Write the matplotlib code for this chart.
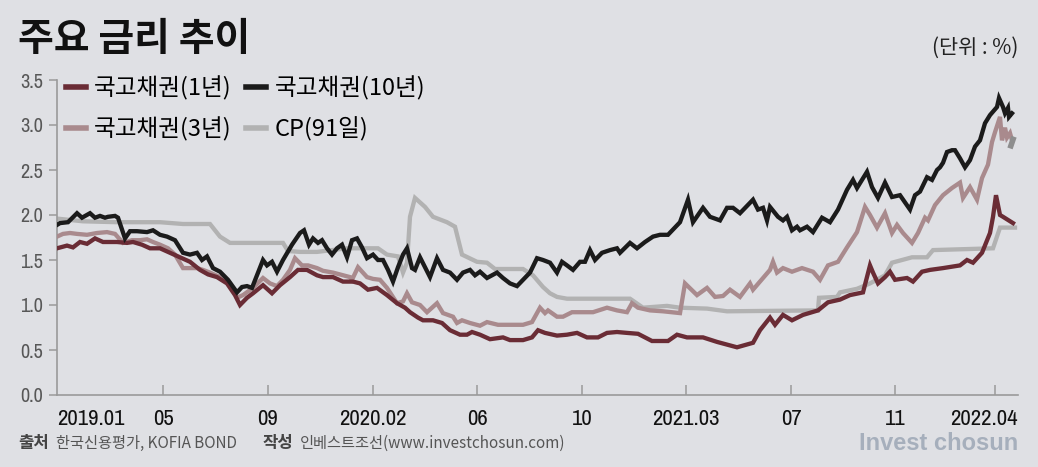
import matplotlib.pyplot as plt
from matplotlib.lines import Line2D
from matplotlib import font_manager as fm

# 위치(px 단위 타임라인, 0 = 2019.01) / 금리(%)
x_1y = [0, 10, 16, 23, 30, 38, 46, 60, 70, 76, 85, 93, 103, 113, 123, 133, 143, 151, 160, 170,
        178, 183, 190, 196, 206, 215, 223, 233, 241, 250, 260, 266, 276, 286, 296, 303, 311, 320,
        330, 340, 348, 353, 361, 366, 376, 385, 393, 403, 410, 415, 423, 433, 446, 453, 466, 475,
        481, 488, 500, 510, 520, 530, 541, 550, 560, 570, 581, 588, 595, 611, 620, 630, 646, 660,
        670, 680, 696, 703, 713, 718, 726, 735, 746, 761, 771, 783, 793, 806, 813, 816, 821, 828,
        833, 838, 850, 856, 865, 873, 886, 903, 910, 916, 925, 933, 936, 939, 943, 946, 956]
y_1y = [1.63, 1.66, 1.64, 1.70, 1.68, 1.74, 1.70, 1.70, 1.69, 1.70, 1.67, 1.63, 1.63, 1.58, 1.53,
        1.48, 1.39, 1.34, 1.31, 1.24, 1.11, 1.00, 1.08, 1.13, 1.22, 1.13, 1.22, 1.31, 1.39, 1.39,
        1.33, 1.31, 1.31, 1.26, 1.26, 1.24, 1.17, 1.19, 1.11, 1.02, 0.97, 0.92, 0.86, 0.83, 0.83,
        0.80, 0.72, 0.67, 0.67, 0.70, 0.67, 0.62, 0.64, 0.61, 0.61, 0.64, 0.72, 0.69, 0.66, 0.67,
        0.69, 0.64, 0.64, 0.69, 0.70, 0.69, 0.68, 0.64, 0.60, 0.60, 0.67, 0.64, 0.64, 0.59, 0.56,
        0.53, 0.58, 0.72, 0.86, 0.78, 0.89, 0.83, 0.89, 0.94, 1.03, 1.06, 1.11, 1.14, 1.44, 1.36,
        1.24, 1.31, 1.37, 1.28, 1.30, 1.26, 1.37, 1.39, 1.41, 1.44, 1.50, 1.47, 1.58, 1.80, 1.98,
        2.22, 2.00, 1.98, 1.91]

x_3y = [0, 6, 13, 20, 30, 40, 50, 58, 66, 75, 83, 90, 96, 103, 111, 118, 126, 140, 146, 153,
        163, 173, 180, 186, 196, 206, 213, 220, 226, 233, 238, 245, 251, 260, 266, 276, 286, 293,
        295, 301, 310, 316, 323, 330, 340, 346, 350, 355, 363, 370, 380, 386, 396, 400, 405, 413,
        423, 430, 441, 453, 466, 475, 483, 488, 491, 500, 506, 515, 523, 536, 550, 560, 570, 575,
        581, 593, 606, 623, 628, 640, 650, 658, 666, 673, 683, 693, 696, 703, 713, 716, 720, 726,
        735, 745, 756, 763, 771, 781, 790, 800, 808, 813, 820, 828, 835, 840, 846, 855, 861, 868,
        871, 878, 886, 895, 903, 906, 913, 920, 925, 931, 935, 938, 943, 945, 948, 950, 953, 955]
y_3y = [1.76, 1.79, 1.80, 1.79, 1.78, 1.80, 1.81, 1.79, 1.69, 1.72, 1.72, 1.73, 1.70, 1.67, 1.63,
        1.56, 1.41, 1.41, 1.39, 1.36, 1.31, 1.24, 1.08, 1.11, 1.19, 1.30, 1.24, 1.21, 1.28, 1.39,
        1.52, 1.44, 1.44, 1.41, 1.38, 1.36, 1.33, 1.31, 1.28, 1.42, 1.31, 1.29, 1.28, 1.19, 1.02,
        1.04, 1.13, 1.03, 1.00, 0.92, 1.02, 0.91, 0.87, 0.80, 0.83, 0.80, 0.77, 0.81, 0.78, 0.78,
        0.78, 0.81, 0.97, 0.91, 0.94, 0.87, 0.87, 0.92, 0.92, 0.92, 0.97, 0.94, 0.92, 1.02, 0.97,
        0.94, 0.93, 0.91, 1.24, 1.11, 1.19, 1.09, 1.10, 1.17, 1.09, 1.24, 1.17, 1.26, 1.39, 1.48,
        1.36, 1.41, 1.37, 1.41, 1.37, 1.28, 1.44, 1.48, 1.64, 1.81, 2.09, 2.00, 1.86, 2.02, 1.80,
        1.89, 1.80, 1.69, 1.80, 1.97, 1.94, 2.11, 2.22, 2.30, 2.36, 2.19, 2.31, 2.17, 2.41, 2.56,
        2.81, 2.92, 3.09, 2.83, 2.97, 2.86, 2.91, 2.83]

x_10y = [0, 3, 11, 20, 25, 33, 38, 43, 48, 51, 58, 61, 68, 73, 80, 90, 96, 103, 110, 118, 126,
         133, 140, 145, 150, 156, 163, 171, 180, 185, 190, 195, 200, 206, 210, 215, 220, 226, 235,
         243, 247, 252, 256, 261, 265, 270, 275, 280, 285, 290, 295, 300, 305, 310, 316, 321, 326,
         331, 336, 341, 346, 350, 355, 358, 363, 368, 373, 380, 386, 393, 400, 406, 413, 418, 423,
         430, 435, 440, 446, 453, 460, 466, 473, 480, 486, 493, 500, 505, 510, 516, 523, 528, 533,
         538, 545, 553, 560, 563, 573, 580, 588, 596, 603, 611, 623, 631, 636, 646, 653, 663, 670,
         676, 683, 696, 701, 706, 710, 713, 721, 726, 730, 735, 740, 743, 750, 756, 765, 773, 781,
         790, 796, 800, 810, 815, 821, 828, 835, 843, 853, 858, 863, 870, 875, 880, 883, 886, 890,
         895, 898, 903, 908, 913, 918, 923, 928, 933, 940, 942, 946, 948, 951, 952, 955]
y_10y = [1.89, 1.91, 1.92, 2.02, 1.97, 2.02, 1.97, 1.99, 1.97, 1.98, 1.99, 1.97, 1.74, 1.82, 1.82,
         1.81, 1.83, 1.78, 1.76, 1.72, 1.58, 1.56, 1.58, 1.50, 1.54, 1.41, 1.37, 1.28, 1.14, 1.20,
         1.21, 1.19, 1.33, 1.50, 1.44, 1.48, 1.37, 1.50, 1.67, 1.80, 1.83, 1.67, 1.74, 1.69, 1.72,
         1.63, 1.56, 1.63, 1.67, 1.53, 1.72, 1.74, 1.64, 1.52, 1.56, 1.50, 1.50, 1.39, 1.26, 1.42,
         1.56, 1.63, 1.41, 1.39, 1.53, 1.42, 1.31, 1.52, 1.39, 1.36, 1.28, 1.36, 1.39, 1.33, 1.37,
         1.30, 1.33, 1.36, 1.30, 1.24, 1.21, 1.28, 1.36, 1.52, 1.50, 1.47, 1.36, 1.48, 1.44, 1.39,
         1.48, 1.48, 1.61, 1.50, 1.58, 1.61, 1.63, 1.58, 1.69, 1.63, 1.70, 1.76, 1.78, 1.78, 1.92,
         2.17, 1.92, 2.08, 1.98, 1.94, 2.08, 2.08, 2.02, 2.17, 2.06, 2.08, 1.94, 2.09, 1.98, 1.94,
         1.98, 1.83, 1.87, 1.83, 1.87, 1.81, 1.97, 1.92, 2.06, 2.28, 2.39, 2.30, 2.48, 2.31, 2.19,
         2.36, 2.20, 2.22, 2.06, 2.22, 2.26, 2.42, 2.39, 2.50, 2.53, 2.58, 2.70, 2.72, 2.72, 2.63,
         2.53, 2.61, 2.76, 2.83, 3.02, 3.11, 3.20, 3.30, 3.20, 3.13, 3.19, 3.09, 3.13]

x_cp = [0, 26, 60, 103, 126, 153, 163, 173, 226, 231, 243, 260, 290, 321, 330, 341, 346, 350, 353,
        358, 368, 376, 390, 398, 405, 420, 430, 438, 466, 476, 486, 493, 500, 510, 573, 586, 610,
        623, 650, 670, 761, 762, 780, 783, 800, 813, 828, 835, 855, 870, 876, 936, 943, 958]
y_cp = [1.96, 1.93, 1.92, 1.92, 1.90, 1.90, 1.76, 1.69, 1.69, 1.60, 1.59, 1.59, 1.63, 1.63, 1.56,
        1.54, 1.36, 1.47, 1.98, 2.19, 2.09, 1.98, 1.92, 1.87, 1.56, 1.48, 1.47, 1.40, 1.40, 1.33,
        1.20, 1.13, 1.09, 1.07, 1.07, 0.97, 0.99, 0.97, 0.96, 0.93, 0.94, 1.08, 1.09, 1.14, 1.18,
        1.24, 1.33, 1.47, 1.53, 1.53, 1.61, 1.63, 1.86, 1.86]

# 끝부분 짙은 회색 조각
x_tail = [953, 957]
y_tail = [2.74, 2.87]

tick_pos = [106, 211, 316, 420, 525, 629, 734, 838, 938]
tick_lab = ['05', '09', '2020.02', '06', '10', '2021.03', '07', '11', '']
first_label = '2019.01'
last_label = '2022.04'
y_ticks = [0, 0.5, 1.0, 1.5, 2.0, 2.5, 3.0, 3.5]
y_labs = ['0.0', '0.5', '1.0', '1.5', '2.0', '2.5', '3.0', '3.5']

c_1y = '#6a2c35'
c_3y = '#a98a8d'
c_10y = '#1b1b1b'
c_cp = '#b2b2b2'
bg = '#dfe0e4'

kr = ['Noto Sans CJK KR', 'DejaVu Sans']

# 숫자용 좁은 글꼴 (없으면 Liberation Sans)
fonts = fm.fontManager.ttflist
narrow = [f for f in fonts
          if ('Narrow' in f.name or 'Condensed' in f.name
              or f.stretch in ('condensed', 'semi-condensed', 'extra-condensed'))
          and f.style == 'normal' and f.weight in (400, 'normal', 'regular')]
narrow.sort(key=lambda f: (0 if 'Liberation' in f.name else 1, f.name))
if narrow:
    num_path = narrow[0].fname
else:
    num_path = fm.findfont(fm.FontProperties(family='Liberation Sans'))

fig = plt.figure(figsize=(10.38, 4.67), dpi=100, facecolor=bg)
renderer = fig.canvas.get_renderer()


def fit_props(sample, width_px, max_px):
    # 참고 그림의 글자 폭에 맞춰 크기 결정
    fp = fm.FontProperties(fname=num_path, size=20)
    t = fig.text(0, 0, sample, fontproperties=fp)
    w = t.get_window_extent(renderer).width
    t.remove()
    size = min(20 * width_px / w, max_px)
    return fm.FontProperties(fname=num_path, size=size)


fp_x = fit_props('2020.02', 68, 21)
fp_y = fit_props('3.5', 23, 18)

ax = fig.add_axes([57 / 1038, 1 - 395 / 467, 961 / 1038, 315 / 467])
ax.set_facecolor(bg)

lw = 3.1
ax.plot(x_cp, y_cp, color=c_cp, lw=lw, zorder=2, solid_joinstyle='miter')
ax.plot(x_3y, y_3y, color=c_3y, lw=lw, zorder=3, solid_joinstyle='miter')
ax.plot(x_1y, y_1y, color=c_1y, lw=lw, zorder=4, solid_joinstyle='miter')
ax.plot(x_10y, y_10y, color=c_10y, lw=lw, zorder=5, solid_joinstyle='miter')
ax.plot(x_tail, y_tail, color='#8e8e8e', lw=4.0, zorder=3, solid_capstyle='butt')

ax.set_xlim(0, 961)
ax.set_ylim(0, 3.5)
for s in ['top', 'right']:
    ax.spines[s].set_visible(False)
for s in ['left', 'bottom']:
    ax.spines[s].set_color('#9a9a9a')
    ax.spines[s].set_linewidth(1.2)

ax.set_yticks(y_ticks)
ax.set_yticklabels(y_labs, color='#575757')
for lbl in ax.get_yticklabels():
    lbl.set_fontproperties(fp_y)
ax.tick_params(axis='y', direction='out', length=6, width=1.1, color='#9a9a9a', pad=4)

ax.set_xticks(tick_pos)
ax.set_xticklabels(tick_lab, color='#111111')
for lbl in ax.get_xticklabels():
    lbl.set_fontproperties(fp_x)
ax.tick_params(axis='x', direction='in', length=7, width=1.1, color='#9a9a9a', pad=10)
for xp, lab, ha in [(0, first_label, 'left'), (961, last_label, 'right')]:
    ax.annotate(lab, (xp, 0), xycoords=('data', 'axes fraction'), xytext=(0, -10),
                textcoords='offset points', ha=ha, va='top', fontproperties=fp_x,
                color='#111111')

# 범례
handles = [Line2D([], [], color=c_1y, lw=4),
           Line2D([], [], color=c_3y, lw=4),
           Line2D([], [], color=c_10y, lw=4),
           Line2D([], [], color=c_cp, lw=4)]
labels = ['국고채권(1년)', '국고채권(3년)', '국고채권(10년)', 'CP(91일)']
fig.legend(handles, labels, loc='upper left', bbox_to_anchor=(66 / 1038, 1 - 76 / 467),
           ncol=2, frameon=False, borderpad=0, borderaxespad=0, handlelength=0.85,
           handletextpad=0.35, columnspacing=0.6, labelspacing=0.70,
           prop={'family': kr, 'size': 17})

fig.text(18 / 1038, 1 - 40 / 467, '주요 금리 추이', family=kr, fontsize=28, fontweight='bold',
         color='#111111', ha='left', va='center')
fig.text(1018 / 1038, 1 - 48 / 467, '(단위 : %)', family=kr, fontsize=15,
         color='#222222', ha='right', va='center')

fy = 1 - 443 / 467
fig.text(18 / 1038, fy, '출처', family=kr, fontsize=12, fontweight='bold', color='#444444',
         va='center')
fig.text(56 / 1038, fy, '한국신용평가, KOFIA BOND', family=kr, fontsize=11, color='#555555',
         va='center')
fig.text(263 / 1038, fy, '작성', family=kr, fontsize=12, fontweight='bold', color='#444444',
         va='center')
fig.text(300 / 1038, fy, '인베스트조선(www.investchosun.com)', family=kr, fontsize=11,
         color='#555555', va='center')
fig.text(1018 / 1038, fy, 'Invest chosun', family=['Liberation Sans', 'DejaVu Sans'],
         fontsize=17, fontweight='bold', color='#a6afbc', ha='right', va='center')

fig.savefig('out.png', dpi=100, facecolor=bg)
